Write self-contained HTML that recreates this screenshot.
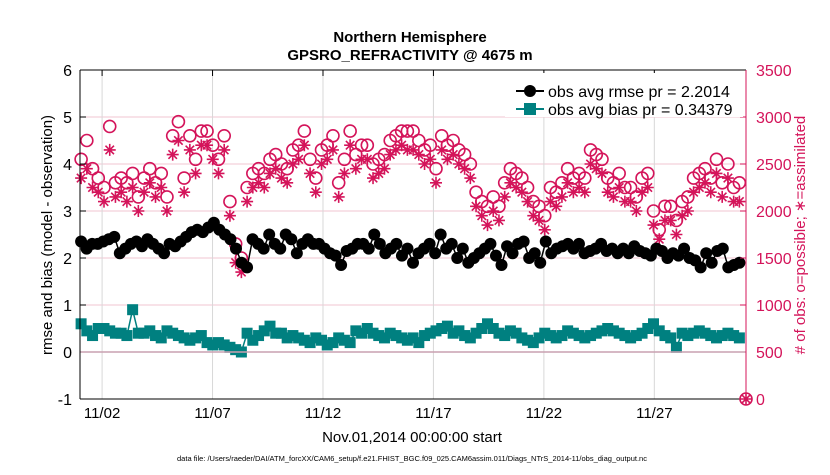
<!DOCTYPE html>
<html><head><meta charset="utf-8"><style>
body{margin:0;background:#fff;font-family:"Liberation Sans",sans-serif}
svg text{font-family:"Liberation Sans",sans-serif}
</style></head><body>
<svg id="c" width="830" height="470" xmlns="http://www.w3.org/2000/svg">
<rect width="830" height="470" fill="#fff"/>
<g id="grid"></g>
<g id="marks"></g>
<g id="axes"></g>
<text x="410" y="42" text-anchor="middle" font-size="15" font-weight="bold">Northern Hemisphere</text>
<text x="410" y="60" text-anchor="middle" font-size="15" font-weight="bold">GPSRO_REFRACTIVITY @ 4675 m</text>
<text x="412" y="442" text-anchor="middle" font-size="15">Nov.01,2014 00:00:00 start</text>
<text x="412" y="461" text-anchor="middle" font-size="7.5">data file: /Users/raeder/DAI/ATM_forcXX/CAM6_setup/f.e21.FHIST_BGC.f09_025.CAM6assim.011/Diags_NTrS_2014-11/obs_diag_output.nc</text>
<text transform="translate(52,235) rotate(-90)" text-anchor="middle" font-size="15">rmse and bias (model - observation)</text>
<text transform="translate(805,235) rotate(-90)" text-anchor="middle" font-size="15" fill="#d4145a"># of obs: o=possible; ∗=assimilated</text>
<g>
<rect x="505" y="73" width="238" height="44" fill="#fff"/>
<line x1="516" y1="91" x2="544" y2="91" stroke="#000" stroke-width="2"/><circle cx="530" cy="91" r="6" fill="#000"/>
<text x="548" y="97" font-size="16">obs avg rmse pr = 2.2014</text>
<line x1="516" y1="109" x2="544" y2="109" stroke="#008080" stroke-width="2"/><rect x="524" y="103" width="12" height="12" fill="#008080"/>
<text x="548" y="115" font-size="16">obs avg bias pr = 0.34379</text>
</g>
</svg>
<script>
const xTicks=[2,7,12,17,22,27];
const xTickLabels=["11/02","11/07","11/12","11/17","11/22","11/27"];
const yTicks=[-1,0,1,2,3,4,5,6];
const rTicks=[0,500,1000,1500,2000,2500,3000,3500];
const rmse=[2.35,2.2,2.3,2.3,2.35,2.4,2.45,2.1, 2.2,2.3,2.35,2.25,2.4,2.3,2.2,2.1, 2.3,2.25,2.35,2.45,2.55,2.6,2.55,2.65, 2.75,2.6,2.5,2.4, 2.2,1.9,1.8,2.4, 2.3,2.2,2.5,2.3, 2.2,2.5,2.4,2.1, 2.3,2.4,2.3,2.3, 2.2,2.1,2.05,1.85, 2.15,2.2,2.3,2.3, 2.2,2.5,2.3,2.1, 2.2,2.3,2.05,2.2, 1.9,2.1,2.2,2.3, 2.1,2.5,2.2,2.3, 2.0,2.2,1.9,2.0, 2.1,2.2,2.3,2.05, 1.85,2.25,2.1,2.3, 2.35,2.0,2.1,1.9, 2.35,2.1,2.2,2.25, 2.3,2.2,2.3,2.1, 2.15,2.2,2.3,2.15, 2.2,2.1,2.2,2.1, 2.25,2.15,2.1,2.05, 2.2,2.15,2.0,2.1, 2.05,2.2,2.0,1.95, 1.8,2.1,1.9,2.15, 2.2,1.8,1.85,1.9];
const bias=[0.6,0.45,0.35,0.5,0.5,0.45,0.4,0.4, 0.35,0.9,0.4,0.4,0.45,0.35,0.3,0.45, 0.4,0.35,0.3,0.25,0.3,0.35,0.2,0.15, 0.2,0.15,0.1,0.05, 0.0,0.4,0.25,0.35, 0.45,0.55,0.4,0.4, 0.3,0.35,0.3,0.25, 0.2,0.3,0.25,0.15, 0.2,0.3,0.25,0.2, 0.45,0.4,0.5,0.4, 0.35,0.3,0.4,0.35, 0.3,0.25,0.3,0.2, 0.35,0.4,0.45,0.5, 0.55,0.4,0.45,0.35, 0.3,0.4,0.5,0.6, 0.5,0.4,0.35,0.45, 0.4,0.3,0.25,0.2, 0.3,0.4,0.35,0.3, 0.35,0.45,0.4,0.35, 0.3,0.35,0.4,0.45, 0.5,0.45,0.4,0.35, 0.3,0.35,0.4,0.5, 0.6,0.45,0.35,0.3, 0.1,0.4,0.35,0.4, 0.45,0.4,0.35,0.3, 0.35,0.4,0.35,0.3];
const possible=[2550,2750,2450,2350,2250,2900,2300,2350, 2300,2400,2150,2350,2450,2300,2400,2150, 2800,2950,2350,2800,2550,2850,2850,2700, 2550,2800,2100,1650, 1500,2250,2400,2450, 2400,2550,2600,2500, 2450,2650,2700,2850, 2550,2350,2650,2700, 2800,2300,2550,2850, 2600,2700,2700,2500, 2550,2600,2750,2800, 2850,2850,2850,2750, 2650,2700,2450,2800, 2700,2750,2650,2600, 2500,2200,2100,2050, 2150,2050,2300,2450, 2400,2350,2250,2100, 2050,1950,2250,2200, 2300,2450,2350,2400, 2350,2650,2600,2550, 2350,2300,2400,2250, 2250,2150,2350,2400, 2000,1800,2050,2050, 1900,2100,2150,2350, 2400,2450,2350,2550, 2300,2500,2250,2300];
const assimilated=[2350,2450,2250,2200,2100,2650,2150,2200, 2100,2250,2000,2200,2300,2150,2250,2000, 2600,2750,2200,2650,2400,2700,2700,2550, 2400,2650,1950,1450, 1350,2100,2250,2300, 2250,2400,2450,2350, 2300,2500,2550,2700, 2400,2200,2500,2550, 2650,2150,2400,2700, 2450,2550,2550,2350, 2400,2450,2600,2650, 2700,2650,2650,2600, 2500,2550,2300,2650, 2550,2600,2500,2450, 2350,2050,1950,1850, 2000,1900,2150,2300, 2250,2200,2100,1950, 1900,1800,2100,2050, 2150,2300,2200,2250, 2200,2500,2450,2400, 2200,2150,2250,2100, 2100,2000,2200,2250, 1850,1700,1900,1900, 1750,1950,2000,2200, 2250,2300,2200,2400, 2150,2350,2100,2100];
const NS="http://www.w3.org/2000/svg";
const L=80,R=746,T=70,B=399;
const xs=d=>L+(d-1)*(R-L)/30.15;
const yl=v=>B-(v+1)*(B-T)/7;
const yr=c=>B-c*(B-T)/3500;
function mk(parent,tag,attrs){const e=document.createElementNS(NS,tag);for(const k in attrs)e.setAttribute(k,attrs[k]);parent.appendChild(e);return e;}
const grid=document.getElementById('grid'),marks=document.getElementById('marks'),axes=document.getElementById('axes');
yTicks.forEach(v=>{const g=mk(grid,'line',{x1:L,x2:R,y1:yl(v),y2:yl(v),stroke:'#f2c4d2','stroke-width':1});


const t=mk(axes,'text',{x:L-8,y:yl(v)+6,'text-anchor':'end','font-size':16});t.textContent=v;


mk(axes,'line',{x1:L,x2:L+6,y1:yl(v),y2:yl(v),stroke:'#000'});});
xTicks.forEach((d,i)=>{const g=mk(grid,'line',{x1:xs(d),x2:xs(d),y1:T,y2:B,stroke:'#d8d8d8','stroke-width':1});


mk(axes,'line',{x1:xs(d),x2:xs(d),y1:T,y2:T+6,stroke:'#000'});
const t=mk(axes,'text',{x:xs(d),y:B+19,'text-anchor':'middle','font-size':15});t.textContent=xTickLabels[i];

});
rTicks.forEach(c=>{mk(axes,'line',{x1:R,x2:R-6,y1:yr(c),y2:yr(c),stroke:'#d4145a'});
const t=mk(axes,'text',{x:R+10,y:yr(c)+6,'font-size':16,fill:'#d4145a'});t.textContent=c;

});
mk(axes,'line',{x1:L,x2:R,y1:yl(0),y2:yl(0),stroke:'#c9a0b0','stroke-width':1.5});
mk(axes,'line',{x1:L,x2:L,y1:T,y2:B,stroke:'#000'});
mk(axes,'line',{x1:L,x2:R,y1:T,y2:T,stroke:'#000'});
mk(axes,'line',{x1:L,x2:R,y1:B,y2:B,stroke:'#000'});
mk(axes,'line',{x1:R,x2:R,y1:T,y2:B,stroke:'#d4145a'});
const D0=1.05,D1=30.85;
const day=(i,n)=>D0+i*(D1-D0)/(n-1);
const P=arr=>arr.map((v,i)=>xs(day(i,arr.length)).toFixed(1)+','+v.toFixed(1)).join(' ');
function star(g,x,y){const r=6;let d='';for(let k=0;k<4;k++){const a=k*Math.PI/4;d+=`M${x-r*Math.cos(a)},${y-r*Math.sin(a)}L${x+r*Math.cos(a)},${y+r*Math.sin(a)}`;}mk(g,'path',{d:d,stroke:'#d4145a','stroke-width':1.6,fill:'none'});}
possible.forEach((c,i)=>{const e=mk(marks,'circle',{cx:xs(day(i,possible.length)),cy:yr(c),r:6,fill:'none',stroke:'#d4145a','stroke-width':1.6});

});
assimilated.forEach((c,i)=>star(marks,xs(day(i,assimilated.length)),yr(c)));
const rl=mk(marks,'polyline',{points:P(rmse.map(yl)),fill:'none',stroke:'#000','stroke-width':1.5});


rmse.forEach((v,i)=>{const e=mk(marks,'circle',{cx:xs(day(i,rmse.length)),cy:yl(v),r:6,fill:'#000'});

});
const bl=mk(marks,'polyline',{points:P(bias.map(yl)),fill:'none',stroke:'#008080','stroke-width':1.5});


bias.forEach((v,i)=>{const e=mk(marks,'rect',{x:xs(day(i,bias.length))-5.5,y:yl(v)-5.5,width:11,height:11,fill:'#008080'});

});
const oc=mk(axes,'circle',{cx:R,cy:B,r:6,fill:'none',stroke:'#d4145a','stroke-width':1.6});


star(axes,R,B);
</script>
</body></html>
